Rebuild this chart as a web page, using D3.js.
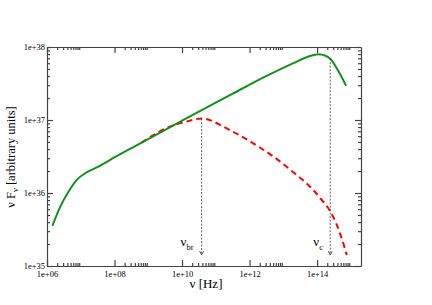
<!DOCTYPE html>
<html>
<head>
<meta charset="utf-8">
<script src="https://cdn.jsdelivr.net/npm/d3@7"></script>
<style>
  body { margin: 0; background: #fff; }
  svg text { font-family: 'Liberation Serif', 'Times New Roman', serif; fill: #000; }
  .axis path, .axis line { stroke: #444; stroke-width: 1.2; }
</style>
</head>
<body>
<div id="chart"></div>
<script>
// exponents (log10 of nu, log10 of nu F_nu)
const greenLogNu = [6.16, 6.39, 6.64, 6.88, 7.13, 7.52, 8.01, 8.56, 10.0, 11.5, 12.4, 13.30, 13.75, 14.04, 14.25, 14.39, 14.63, 14.86];
const greenLogF  = [35.55, 35.81, 36.02, 36.18, 36.27, 36.36, 36.49, 36.63, 36.99, 37.36, 37.58, 37.78, 37.87, 37.90, 37.88, 37.84, 37.67, 37.47];
const redLogNu = [8.8, 9.64, 10.14, 10.58, 11.42, 12.11, 12.85, 13.2, 13.89, 14.13, 14.39, 14.56, 14.70, 14.88];
const redLogF  = [36.69, 36.91, 36.98, 37.02, 36.86, 36.68, 36.45, 36.32, 36.04, 35.91, 35.75, 35.59, 35.42, 35.15];

const xMajor = [1e6, 1e8, 1e10, 1e12, 1e14];
const xLabels = ['1e+06', '1e+08', '1e+10', '1e+12', '1e+14'];
const yMajor = [1e35, 1e36, 1e37, 1e38];
const yLabels = ['1e+35', '1e+36', '1e+37', '1e+38'];

// break frequencies with the curve they start from
const markers = [
  {name: 'br', logNu: 10.58, logTop: 37.02},
  {name: 'c', logNu: 14.39, logTop: 37.84}
];
const arrowEnd = 35.15;

const width = 432, height = 305;
const margin = {top: 47, right: 71, bottom: 39, left: 47};
const w = width - margin.left - margin.right;
const h = height - margin.top - margin.bottom;

const svg = d3.select('#chart').append('svg').attr('width', width).attr('height', height);
const g = svg.append('g').attr('transform', 'translate(' + margin.left + ',' + margin.top + ')');

const x = d3.scaleLog().domain([1e6, 2e15]).range([0, w]);
const y = d3.scaleLog().domain([1e35, 1e38]).range([h, 0]);

// minor ticks: 2..9 of every major decade
const xMinor = [];
xMajor.forEach(m => { for (let k = 2; k <= 9; k++) if (m * k <= 2e15) xMinor.push(m * k); });
const yMinor = [];
yMajor.slice(0, 3).forEach(m => { for (let k = 2; k <= 9; k++) yMinor.push(m * k); });

const lab = (vals, labels) => d => labels[vals.indexOf(d)];

function axis(gen, scale, major, minor, tf, labels) {
  const a = g.append('g').attr('class', 'axis').attr('transform', tf);
  a.call(gen(scale).tickValues(major).tickSize(-6).tickSizeOuter(0)
    .tickFormat(labels ? lab(major, labels) : ''));
  a.append('g').call(gen(scale).tickValues(minor).tickSize(-3).tickSizeOuter(0).tickFormat(''))
    .select('.domain').remove();
  a.selectAll('text').style('font-size', '8.5px').style('font-family', "'Liberation Serif', serif").attr('fill', '#000');
  return a;
}

const xb = axis(d3.axisBottom, x, xMajor, xMinor, 'translate(0,' + h + ')', xLabels);
xb.selectAll('.tick text').attr('y', 5);
axis(d3.axisTop, x, xMajor, xMinor, 'translate(0,0)', null);
const yl = axis(d3.axisLeft, y, yMajor, yMinor, 'translate(0,0)', yLabels);
yl.selectAll('.tick text').attr('x', -2);
axis(d3.axisRight, y, yMajor, yMinor, 'translate(' + w + ',0)', null);

const line = d3.line()
  .x(d => x(Math.pow(10, d[0])))
  .y(d => y(Math.pow(10, d[1])))
  .curve(d3.curveMonotoneX);

g.append('path')
  .datum(redLogNu.map((v, i) => [v, redLogF[i]]))
  .attr('d', line)
  .attr('fill', 'none')
  .attr('stroke', '#ff0000')
  .attr('stroke-width', 2)
  .attr('stroke-dasharray', '6,4');

g.append('path')
  .datum(greenLogNu.map((v, i) => [v, greenLogF[i]]))
  .attr('d', line)
  .attr('fill', 'none')
  .attr('stroke', '#12911a')
  .attr('stroke-width', 2);

// dotted markers with arrows
markers.forEach(m => {
  const mx = x(Math.pow(10, m.logNu));
  const y0 = y(Math.pow(10, m.logTop));
  const y1 = y(Math.pow(10, arrowEnd));
  g.append('line')
    .attr('x1', mx).attr('x2', mx).attr('y1', y0).attr('y2', y1)
    .attr('stroke', '#333').attr('stroke-width', 0.8).attr('stroke-dasharray', '2,1.5');
  g.append('path')
    .attr('d', 'M' + (mx - 2) + ',' + (y1 - 4) + 'L' + mx + ',' + y1 + 'L' + (mx + 2) + ',' + (y1 - 4))
    .attr('fill', 'none').attr('stroke', '#333').attr('stroke-width', 0.8);
  const t = g.append('text')
    .attr('x', mx - 21 + (m.name === 'c' ? 4 : 0))
    .attr('y', y1 - 9)
    .style('font-size', '13px');
  t.append('tspan').text('\u03bd');
  t.append('tspan').attr('dy', 4).style('font-size', '8.5px').text(m.name);
});

// axis titles
svg.append('text')
  .attr('x', 206).attr('y', 288)
  .attr('text-anchor', 'middle')
  .style('font-size', '13px')
  .text('\u03bd [Hz]');

const yt = svg.append('text')
  .attr('transform', 'translate(15,157) rotate(-90)')
  .attr('text-anchor', 'middle')
  .style('font-size', '12.5px');
yt.append('tspan').text('\u03bd F');
yt.append('tspan').attr('dy', 3).style('font-size', '8.5px').text('\u03bd');
yt.append('tspan').attr('dy', -3).text('  [arbitrary units]');
</script>
</body>
</html>
